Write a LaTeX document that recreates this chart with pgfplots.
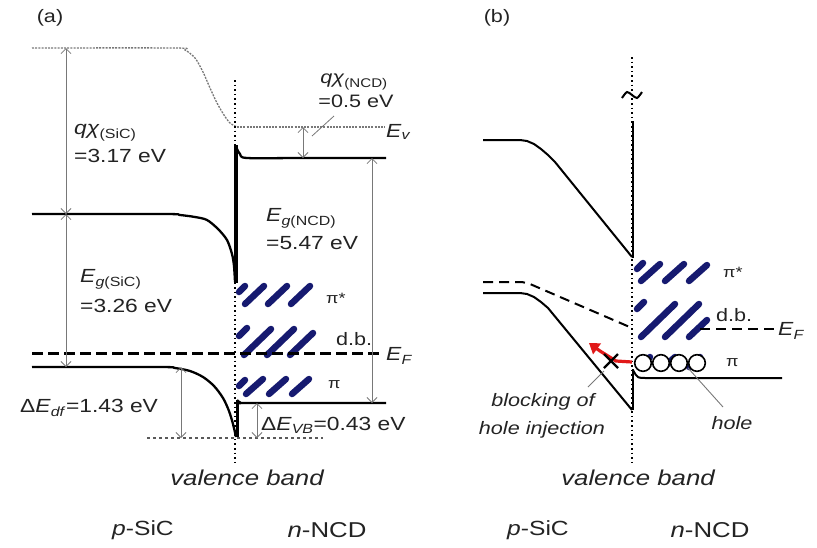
\documentclass[border=0pt]{standalone}
\usepackage{pgfplots}
\pgfplotsset{compat=1.18}
\usepackage{fontspec}
\setmainfont{Liberation Sans}[FakeStretch=1.2]
\usetikzlibrary{arrows.meta}
\definecolor{hatch}{RGB}{22,26,112}
\definecolor{dimg}{RGB}{120,120,120}
\definecolor{txt}{RGB}{35,35,35}
\definecolor{arrred}{RGB}{225,25,25}
\newcommand\fs[1]{\fontsize{#1}{#1}\selectfont}
\newcommand\sub[1]{\textsubscript{#1}}
\tikzset{
  dimarr/.style={dimg, line width=0.8pt, {Straight Barb[length=5pt,width=10pt]}-{Straight Barb[length=5pt,width=10pt]}},
  band/.style={black, line width=2.3pt, line join=round},
  iface/.style={black, line width=1.6pt, dash pattern=on 1.6pt off 3pt},
  stripes/.style={hatch, line width=6.5pt, line cap=round},
  lab/.style={txt, inner sep=0pt, font=\fs{19}},
}
\begin{document}
\begin{tikzpicture}
\begin{axis}[width=817pt,height=547pt,scale only axis,
  xmin=0,xmax=817,ymin=0,ymax=547,y dir=reverse,
  hide axis,clip=false,no markers,unbounded coords=jump]
\path (axis cs:0,0) rectangle (axis cs:817,547);

% ---------------- panel (a) ----------------
% hatched states (pi*, d.b., pi)
\addplot[stripes] coordinates {
 (239,292) (245,286) (nan,nan) (245,304) (264,286) (nan,nan) (268,304) (287,286) (nan,nan) (291,304) (310,286) (nan,nan)
 (239,336) (247,328) (nan,nan) (244,355) (271,329) (nan,nan) (267,355) (294,329) (nan,nan) (290,355) (313,333) (nan,nan)
 (239,386) (245,380) (nan,nan) (246,394) (263,379) (nan,nan) (269,394) (286,379) (nan,nan) (292,394) (309,379)};
% vacuum level
\addplot[dimg, line width=1.3pt, dash pattern=on 2pt off 1.2pt, smooth] coordinates {
 (32,48) (175,48) (185,50) (195,58) (203,72) (210,88) (217,103) (224,115) (230,123) (237,127)};
\addplot[dimg, line width=1.3pt, dash pattern=on 2pt off 1.2pt] coordinates {(237,127) (385,127)};
% interface
\addplot[iface] coordinates {(235,80) (235,466)};
% Fermi level
\addplot[black, line width=3pt, dash pattern=on 11pt off 5pt] coordinates {(32,353) (384,353)};
% SiC conduction band
\addplot[band, smooth] coordinates {(32,214) (165,214) (180,215) (195,217) (207,220) (218,229) (227,240) (232,254) (234,266) (235,282)};
% interface spike + NCD conduction band
\addplot[black, line width=3.6pt] coordinates {(236,283) (236,145)};
\addplot[band, smooth] coordinates {(236,147) (240,154) (247,158) (300,158) (386,158)};
% SiC valence band
\addplot[band, smooth] coordinates {(32,367) (160,367) (175,368) (190,371) (203,377) (214,386) (223,398) (229,411) (233,424) (236,437)};
\addplot[black, line width=3pt] coordinates {(237,437) (237,400)};
\addplot[band, smooth] coordinates {(237,400) (241,403) (250,403) (386,403)};
% dotted valence reference
\addplot[black!65, line width=1.5pt, dash pattern=on 3pt off 3pt] coordinates {(147,438) (323,438)};
% dimension arrows
\addplot[dimarr] coordinates {(66,48) (66,214)};
\addplot[dimarr] coordinates {(66,214) (66,367)};
\addplot[dimarr] coordinates {(181,367) (181,438)};
\addplot[dimarr] coordinates {(372,158) (372,403)};
\addplot[dimarr] coordinates {(303,127) (303,158)};
\addplot[dimarr] coordinates {(257,403) (257,438)};
\addplot[dimg, line width=0.8pt] coordinates {(312,136) (334,116)};

% ---------------- panel (b) ----------------
\addplot[stripes] coordinates {
 (637,269) (643,263) (nan,nan) (641,281) (660,264) (nan,nan) (665,281) (684,264) (nan,nan) (689,281) (707,265) (nan,nan)
 (637,309) (644,302) (nan,nan) (641,337) (675,304) (nan,nan) (665,337) (699,304) (nan,nan) (689,337) (707,320) (nan,nan)
 (639,367) (650,357) (nan,nan) (664,367) (675,357) (nan,nan) (689,367) (700,357)};
% interface
\addplot[iface] coordinates {(632,57) (632,466)};
\addplot[black, line width=2pt, smooth] coordinates {(622,98) (627,92) (632,95) (637,98) (642,92)};
% conduction band
\addplot[band, line width=2pt] coordinates {(483,140) (520,140) (527,141) (534,144) (541,149) (548,155) (555,162) (632,257)};
\addplot[black, line width=2.6pt] coordinates {(633,258) (633,121)};
% Fermi level
\addplot[black, line width=2pt, dash pattern=on 10pt off 6pt] coordinates {(483,282) (522,282) (530,284) (632,328)};
\addplot[black, line width=2pt, dash pattern=on 10pt off 6pt] coordinates {(700,329) (777,329)};
% valence band
\addplot[band, line width=2pt] coordinates {(483,293) (520,293) (527,294) (534,297) (541,302) (548,308) (632,410)};
\addplot[black, line width=2.6pt] coordinates {(633,410) (633,369)};
\addplot[band, line width=2pt, smooth] coordinates {(633,370) (637,376) (645,378) (700,378) (782,378)};
% holes
\addplot[only marks, mark=*, mark size=8.3pt, mark options={fill=white, draw=black, line width=1.6pt}] coordinates {(643,363) (661,363) (679,363) (697,363)};
% blocked injection
\addplot[arrred, line width=3.2pt, -{Triangle[length=10pt,width=13pt]}] coordinates {(632,362) (616,361) (600,351) (589,343)};
\addplot[black, line width=2.2pt] coordinates {(604,354) (618,368)};
\addplot[black, line width=2.2pt] coordinates {(604,368) (618,354)};
% leaders
\addplot[dimg, line width=0.9pt] coordinates {(604,371) (588,387)};
\addplot[dimg, line width=0.9pt] coordinates {(688,368) (723,407)};

% ---------------- text ----------------
\node[lab, font=\fs{18}] at (axis cs:50,18) {(a)};
\node[lab, font=\fs{18}] at (axis cs:497,18) {(b)};
\node[lab, anchor=west] at (axis cs:74,133) {\textit{qχ}\sub{(SiC)}};
\node[lab, anchor=west] at (axis cs:74,156) {=3.17 eV};
\node[lab, anchor=west] at (axis cs:80,279) {\textit{E}\sub{\textit{g}(SiC)}};
\node[lab, anchor=west] at (axis cs:80,306) {=3.26 eV};
\node[lab, anchor=west] at (axis cs:266,218) {\textit{E}\sub{\textit{g}(NCD)}};
\node[lab, anchor=west] at (axis cs:266,243) {=5.47 eV};
\node[lab, font=\fs{18}] at (axis cs:354,82) {\textit{qχ}\sub{(NCD)}};
\node[lab, font=\fs{18}] at (axis cs:356,101) {=0.5 eV};
\node[lab, anchor=west] at (axis cs:386,132) {\textit{E}\sub{\textit{v}}};
\node[lab, anchor=west] at (axis cs:386,356) {\textit{E}\sub{\textit{F}}};
\node[lab, anchor=west, font=\fs{15}] at (axis cs:326,298) {π*};
\node[lab, anchor=west, font=\fs{18}] at (axis cs:336,339) {d.b.};
\node[lab, anchor=west, font=\fs{15}] at (axis cs:328,385) {π};
\node[lab, anchor=west] at (axis cs:20,408) {Δ\textit{E}\sub{\textit{df}}=1.43 eV};
\node[lab, anchor=west] at (axis cs:261,425) {Δ\textit{E}\sub{\textit{VB}}=0.43 eV};
\node[lab, font=\fs{21.5}\itshape] at (axis cs:247,478) {valence band};
\node[lab, font=\fs{20.5}] at (axis cs:143,530) {\textit{p}-SiC};
\node[lab, font=\fs{21.5}] at (axis cs:327,530) {\textit{n}-NCD};
% (b)
\node[lab, anchor=west, font=\fs{15}] at (axis cs:723,272) {π*};
\node[lab, anchor=west, font=\fs{18}] at (axis cs:716,315) {d.b.};
\node[lab, anchor=west, font=\fs{15}] at (axis cs:726,363) {π};
\node[lab, anchor=west] at (axis cs:778,331) {\textit{E}\sub{\textit{F}}};
\node[lab, font=\fs{18}\itshape] at (axis cs:543,402) {blocking of};
\node[lab, font=\fs{18}\itshape] at (axis cs:542,430) {hole injection};
\node[lab, font=\fs{18}\itshape] at (axis cs:732,423) {hole};
\node[lab, font=\fs{21.5}\itshape] at (axis cs:638,478) {valence band};
\node[lab, font=\fs{20.5}] at (axis cs:538,530) {\textit{p}-SiC};
\node[lab, font=\fs{21.5}] at (axis cs:710,530) {\textit{n}-NCD};
\end{axis}
\end{tikzpicture}
\end{document}
